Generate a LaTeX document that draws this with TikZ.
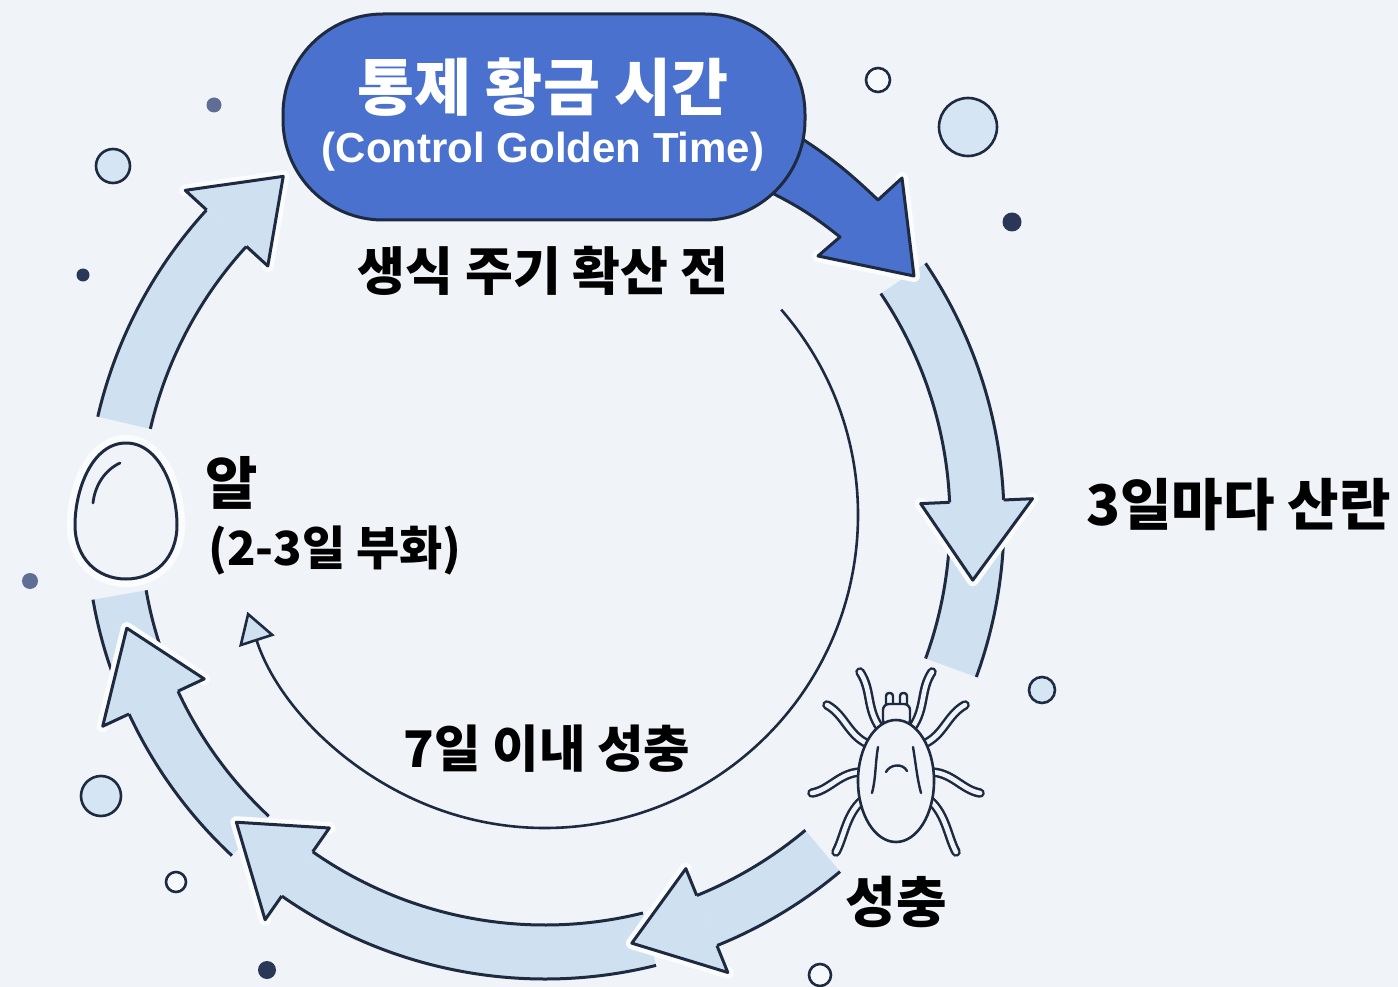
\documentclass[tikz,border=0pt]{standalone}
\usepackage{fontspec}
\setmainfont{Noto Sans CJK KR}
\newfontfamily\latinsans{Liberation Sans}
\usetikzlibrary{arrows.meta,calc}

\definecolor{bgc}{HTML}{F0F4F9}
\definecolor{bandc}{HTML}{CFE0F1}
\definecolor{outc}{HTML}{1E2A40}
\definecolor{pillc}{HTML}{4A71CD}
\definecolor{haloc}{HTML}{FBFCFE}
\definecolor{dotdark}{HTML}{2A3756}
\definecolor{dotgrey}{HTML}{5E6E95}
\definecolor{bubble}{HTML}{D6E5F4}
\definecolor{bubblew}{HTML}{F6F9FC}

% ring band between two angles (clockwise on screen)
\newcommand\ringband[2]{%
  \fill[bandc] ($(C)+(#1:459)$) arc[start angle=#1,end angle=#2,radius=459]
     -- ($(C)+(#2:405)$) arc[start angle=#2,end angle=#1,radius=405] -- cycle;
  \draw[outl] ($(C)+(#1:459)$) arc[start angle=#1,end angle=#2,radius=459];
  \draw[outl] ($(C)+(#1:405)$) arc[start angle=#1,end angle=#2,radius=405];
}
% arrow head on the ring: base angle, tip angle
\newcommand\ringhead[2]{%
  \draw[halo] ($(C)+(#1:488)$) -- ($(C)+(#2:432)$) -- ($(C)+(#1:376)$);
  \filldraw[outl,fill=bandc] ($(C)+(#1:459)$) -- ($(C)+(#1:488)$) -- ($(C)+(#2:432)$)
     -- ($(C)+(#1:376)$) -- ($(C)+(#1:405)$);
}

\begin{document}
\begin{tikzpicture}[x=1pt,y=-1pt,
  outl/.style={draw=outc,line width=3pt,line join=round},
  halo/.style={draw=haloc,line width=12pt,line join=round,line cap=round},
  leg/.style={draw=outc,line width=2.5pt,double=bgc,double distance=4.6pt,line cap=round},
  stroke/.style={draw=outc,line width=2.4pt,line cap=round},
  bubbleo/.style={draw=outc,line width=2.6pt,fill=bubble},
  bubblewo/.style={draw=outc,line width=2.6pt,fill=bubblew},
  ktext/.style={inner sep=0pt,text=black,font=\bfseries\fontsize{#1}{#1}\selectfont},
  wtext/.style={inner sep=0pt,text=white,font=\bfseries\fontsize{#1}{#1}\selectfont}]
\useasboundingbox (0,0) rectangle (1398,987);
\fill[bgc] (0,0) rectangle (1398,987);

\coordinate (C) at (545,520);
\coordinate (Ci) at (545,515);

% scattered bubbles and dots
\filldraw[bubbleo] (113,166) circle[radius=17];
\filldraw[bubbleo] (101,796) circle[radius=20];
\filldraw[bubbleo] (968,127) circle[radius=29];
\filldraw[bubbleo] (1042,690) circle[radius=13];
\filldraw[bubblewo] (878,80) circle[radius=12];
\filldraw[bubblewo] (176,882) circle[radius=10];
\filldraw[bubblewo] (820,975) circle[radius=11];
\fill[dotdark] (83,275) circle[radius=6.5];
\fill[dotdark] (1012,222) circle[radius=9.5];
\fill[dotdark] (267,970) circle[radius=9];
\fill[dotgrey] (214,105) circle[radius=7.5];
\fill[dotgrey] (30,581) circle[radius=8];

% inner cycle
\draw[line width=2.6pt,draw=outc,-{Triangle[length=31pt,width=37pt,fill=bandc]}]
  ($(Ci)+(-41:313)$) arc[start angle=-41,end angle=162,radius=313];

% outer ring bands
\ringband{-34}{20}
\ringband{50}{68}
\ringband{76}{125}
\ringband{133}{170}
\ringband{193}{222.5}

% ring arrow heads
\ringhead{-2.5}{8}
\ringhead{68}{78.4}
\ringhead{125}{135.6}
\ringhead{155}{165.5}
\ringhead{222.5}{232.7}

% blue arrow leaving the pill
\draw[halo] (902,178) -- (914,276) -- (818,256);
\filldraw[outl,fill=pillc] (785,128) to[bend left=6] (878,200) -- (902,178) -- (914,276)
  -- (818,256) -- (840,237) to[bend right=6] (770,192) -- cycle;

% title pill
\node[draw=outc,line width=3pt,fill=pillc,rounded corners=100pt,
  minimum width=522pt,minimum height=206pt,inner sep=0pt] (pill) at (544,117) {};
\node[wtext=62] (title) at (543,87) {통제 황금 시간};
\node[wtext=42,font=\latinsans\bfseries\fontsize{42}{42}\selectfont] (subtitle) at (543,152) {(Control Golden Time)};

% egg
\draw[halo,line width=16pt] (126,443) .. controls (160,443) and (177,490) .. (177,525)
  .. controls (177,558) and (155,579) .. (126,579) .. controls (97,579) and (75,558) .. (75,525)
  .. controls (75,490) and (92,443) .. (126,443) -- cycle;
\filldraw[outl,fill=bgc] (126,443) .. controls (160,443) and (177,490) .. (177,525)
  .. controls (177,558) and (155,579) .. (126,579) .. controls (97,579) and (75,558) .. (75,525)
  .. controls (75,490) and (92,443) .. (126,443) -- cycle;
\draw[stroke,line width=2.8pt] (93,503) .. controls (95,485) and (105,470) .. (120,463);

% mite
\draw[leg] (880,728) .. controls (866,708) and (872,690) .. (860,672);
\draw[leg] (912,728) .. controls (926,708) and (920,690) .. (932,672);
\draw[leg] (868,744) .. controls (848,735) and (845,715) .. (827,705);
\draw[leg] (924,744) .. controls (944,735) and (947,715) .. (965,705);
\draw[leg] (862,772) .. controls (840,772) and (830,790) .. (812,793);
\draw[leg] (930,772) .. controls (952,772) and (962,790) .. (980,793);
\draw[leg] (866,797) .. controls (846,812) and (845,835) .. (836,852);
\draw[leg] (926,797) .. controls (946,812) and (947,835) .. (956,852);
\filldraw[outl,line width=2.4pt,fill=bgc,rounded corners=3pt] (886,693) rectangle (893,712);
\filldraw[outl,line width=2.4pt,fill=bgc,rounded corners=3pt] (900,693) rectangle (907,712);
\filldraw[outl,line width=2.4pt,fill=bgc,rounded corners=6pt] (883,704) rectangle (910,726);
\filldraw[outl,line width=2.6pt,fill=bgc] (896,781) ellipse[x radius=38,y radius=61];
\draw[stroke] (878,747) .. controls (875,765) and (876,778) .. (872,793);
\draw[stroke] (913,747) .. controls (916,765) and (917,778) .. (921,793);
\draw[stroke] (886,772) .. controls (890,764) and (903,763) .. (907,771);

% labels
\node[ktext=52] (before) at (543,271) {생식 주기 확산 전};
\node[ktext=56,anchor=west] (lay) at (1086,505) {3일마다 산란};
\node[ktext=57,anchor=west] (egg) at (205,483) {알};
\node[ktext=47,anchor=west] (hatch) at (208,551) {(2-3일 부화)};
\node[ktext=50.5] (grow) at (547,749) {7일 이내 성충};
\node[ktext=55] (adult) at (896,902) {성충};
\end{tikzpicture}
\end{document}
